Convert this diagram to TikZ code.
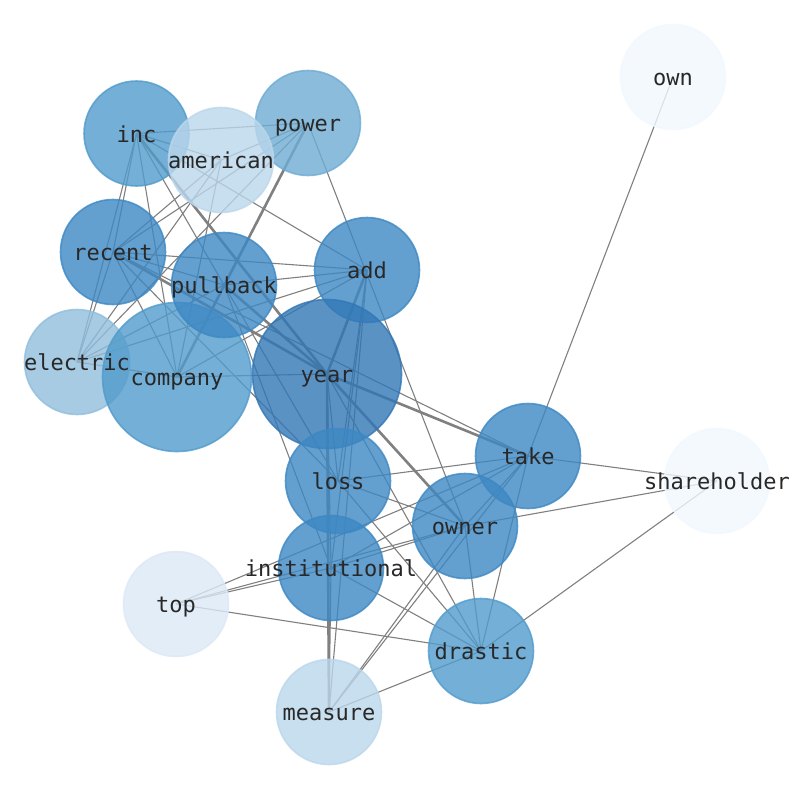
\documentclass[tikz,border=0pt]{standalone}
\usepackage{fontspec}
\setmonofont{DejaVu Sans Mono}
\definecolor{edgegray}{RGB}{128,128,128}
\definecolor{labelgray}{RGB}{40,40,40}
\definecolor{cYear}{RGB}{50,119,182}
\definecolor{cMid}{RGB}{61,136,195}
\definecolor{cInc}{RGB}{81,155,204}
\definecolor{cPow}{RGB}{110,172,212}
\definecolor{cEl}{RGB}{144,190,221}
\definecolor{cAm}{RGB}{187,215,236}
\definecolor{cTop}{RGB}{220,233,246}
\definecolor{cOwn}{RGB}{242,248,254}
\begin{document}
\begin{tikzpicture}[x=1pt,y=-1pt,
  edge/.style={draw=edgegray,line width=1.1pt},
  heavy/.style={draw=edgegray,line width=2.6pt},
  bubble/.style={circle,inner sep=0pt,minimum size=105pt,line width=1.6pt,fill opacity=0.8,draw opacity=0.8},
  big/.style={minimum size=149pt},
  lab/.style={inner sep=0pt,yshift=-3pt,text height=16.5pt,text depth=4.6pt,text=labelgray,font=\ttfamily\fontsize{22pt}{25pt}\selectfont}]
\useasboundingbox (0,0) rectangle (794,790);
\fill[white] (0,0) rectangle (794,790);
% positions
\coordinate (own) at (673,77);
\coordinate (inc) at (136.5,133.5);
\coordinate (power) at (308,123);
\coordinate (american) at (221,160);
\coordinate (recent) at (113,252);
\coordinate (pullback) at (224,285);
\coordinate (add) at (367,270);
\coordinate (electric) at (77,362);
\coordinate (company) at (177,377);
\coordinate (year) at (327,374);
\coordinate (take) at (528,456);
\coordinate (shareholder) at (717,481);
\coordinate (loss) at (338,481);
\coordinate (owner) at (465,526);
\coordinate (institutional) at (331,568);
\coordinate (top) at (176,604);
\coordinate (drastic) at (481,651);
\coordinate (measure) at (329,712);
% edges
\draw[edge] (inc) -- (power);
\draw[edge] (inc) -- (american);
\draw[edge] (inc) -- (add);
\draw[edge] (inc) -- (recent);
\draw[edge] (inc) -- (electric);
\draw[edge] (inc) -- (company);
\draw[edge] (inc) -- (pullback);
\draw[heavy] (inc) -- (year);
\draw[edge] (power) -- (american);
\draw[edge] (power) -- (recent);
\draw[edge] (power) -- (electric);
\draw[heavy] (power) -- (company);
\draw[edge] (power) -- (owner);
\draw[edge] (american) -- (recent);
\draw[edge] (american) -- (electric);
\draw[edge] (american) -- (company);
\draw[edge] (recent) -- (electric);
\draw[edge] (recent) -- (company);
\draw[edge] (recent) -- (pullback);
\draw[edge] (recent) -- (add);
\draw[heavy] (recent) -- (year);
\draw[edge] (recent) -- (take);
\draw[edge] (recent) -- (loss);
\draw[edge] (electric) -- (company);
\draw[edge] (electric) -- (pullback);
\draw[edge] (electric) -- (add);
\draw[edge] (company) -- (pullback);
\draw[edge] (company) -- (add);
\draw[edge] (company) -- (year);
\draw[edge] (pullback) -- (add);
\draw[heavy] (pullback) -- (year);
\draw[edge] (pullback) -- (loss);
\draw[edge] (pullback) -- (institutional);
\draw[heavy] (add) -- (year);
\draw[edge] (add) -- (loss);
\draw[edge] (add) -- (institutional);
\draw[edge] (add) -- (measure);
\draw[heavy] (year) -- (take);
\draw[heavy] (year) -- (owner);
\draw[heavy] (year) -- (measure);
\draw[edge] (year) -- (loss);
\draw[edge] (year) -- (institutional);
\draw[edge] (year) -- (drastic);
\draw[edge] (take) -- (own);
\draw[edge] (take) -- (shareholder);
\draw[edge] (take) -- (loss);
\draw[edge] (take) -- (owner);
\draw[edge] (take) -- (institutional);
\draw[edge] (take) -- (top);
\draw[edge] (take) -- (measure);
\draw[edge] (take) -- (drastic);
\draw[edge] (owner) -- (loss);
\draw[edge] (owner) -- (institutional);
\draw[edge] (owner) -- (top);
\draw[edge] (owner) -- (drastic);
\draw[edge] (owner) -- (measure);
\draw[edge] (owner) -- (shareholder);
\draw[edge] (institutional) -- (top);
\draw[edge] (institutional) -- (drastic);
\draw[edge] (institutional) -- (measure);
\draw[edge] (top) -- (drastic);
\draw[edge] (drastic) -- (measure);
\draw[edge] (drastic) -- (shareholder);
\draw[edge] (drastic) -- (loss);
% bubbles
\node[bubble,fill=cOwn,draw=cOwn] (b-own) at (own) {};
\node[bubble,fill=cInc,draw=cInc] (b-inc) at (inc) {};
\node[bubble,fill=cPow,draw=cPow] (b-power) at (power) {};
\node[bubble,fill=cAm,draw=cAm] (b-american) at (american) {};
\node[bubble,fill=cMid,draw=cMid] (b-recent) at (recent) {};
\node[bubble,fill=cEl,draw=cEl] (b-electric) at (electric) {};
\node[bubble,big,fill=cInc,draw=cInc] (b-company) at (company) {};
\node[bubble,fill=cMid,draw=cMid] (b-pullback) at (pullback) {};
\node[bubble,fill=cMid,draw=cMid] (b-add) at (add) {};
\node[bubble,big,fill=cYear,draw=cYear] (b-year) at (year) {};
\node[bubble,fill=cMid,draw=cMid] (b-take) at (take) {};
\node[bubble,fill=cOwn,draw=cOwn] (b-shareholder) at (shareholder) {};
\node[bubble,fill=cMid,draw=cMid] (b-loss) at (loss) {};
\node[bubble,fill=cMid,draw=cMid] (b-owner) at (owner) {};
\node[bubble,fill=cMid,draw=cMid] (b-institutional) at (institutional) {};
\node[bubble,fill=cTop,draw=cTop] (b-top) at (top) {};
\node[bubble,fill=cInc,draw=cInc] (b-drastic) at (drastic) {};
\node[bubble,fill=cAm,draw=cAm] (b-measure) at (measure) {};
% labels
\node[lab] (l-own) at (own) {own};
\node[lab] (l-inc) at (inc) {inc};
\node[lab] (l-power) at (power) {power};
\node[lab] (l-american) at (american) {american};
\node[lab] (l-recent) at (recent) {recent};
\node[lab] (l-electric) at (electric) {electric};
\node[lab] (l-company) at (company) {company};
\node[lab] (l-pullback) at (pullback) {pullback};
\node[lab] (l-add) at (add) {add};
\node[lab] (l-year) at (year) {year};
\node[lab] (l-take) at (take) {take};
\node[lab] (l-shareholder) at (shareholder) {shareholder};
\node[lab] (l-loss) at (loss) {loss};
\node[lab] (l-owner) at (owner) {owner};
\node[lab] (l-institutional) at (institutional) {institutional};
\node[lab] (l-top) at (top) {top};
\node[lab] (l-drastic) at (drastic) {drastic};
\node[lab] (l-measure) at (measure) {measure};
\end{tikzpicture}
\end{document}
